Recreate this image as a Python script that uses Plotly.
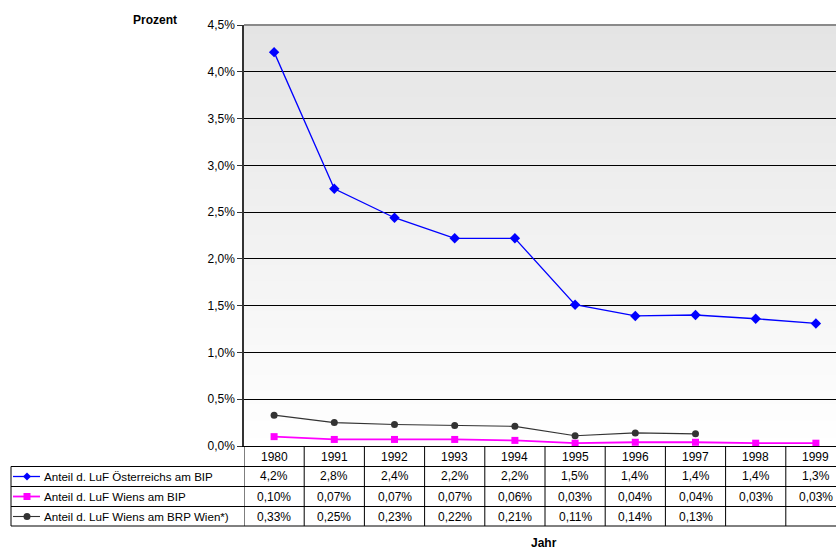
from decimal import Decimal, ROUND_HALF_UP
import plotly.graph_objects as go

# Data (percent of GDP)
years = ["1980", "1991", "1992", "1993", "1994", "1995", "1996", "1997", "1998", "1999"]
at_bip = [4.21, 2.75, 2.44, 2.22, 2.22, 1.51, 1.39, 1.40, 1.36, 1.31]
wien_bip = [0.10, 0.07, 0.07, 0.07, 0.06, 0.03, 0.04, 0.04, 0.03, 0.03]
wien_brp = [0.33, 0.25, 0.23, 0.22, 0.21, 0.11, 0.14, 0.13, None, None]

series_names = [
    "Anteil d. LuF Österreichs am BIP",
    "Anteil d. LuF Wiens am BIP",
    "Anteil d. LuF Wiens am BRP Wien*)",
]
series_colors = ["#0000ff", "#ff00ff", "#333333"]
series_symbols = ["diamond", "square", "circle"]
series_widths = [1.3, 1.8, 1.1]
series_decimals = [1, 2, 2]

# Figure geometry (pixels)
W, H = 836, 550
L, T, B = 244, 25, 104
plot_w = W - L
plot_h = H - T - B
col_w = 60.2
x_hi = -0.5 + plot_w / col_w
FONT = "Liberation Sans, Arial, sans-serif"


def xp(px):
    return (px - L) / plot_w


def yp(py):
    return (T + plot_h - py) / plot_h


def fmt(v, nd):
    if v is None:
        return ""
    q = Decimal(str(v)).quantize(Decimal(1).scaleb(-nd), rounding=ROUND_HALF_UP)
    return f"{q}".replace(".", ",") + "%"


fig = go.Figure()
all_series = [at_bip, wien_bip, wien_brp]
for vals, name, col, sym, lw in zip(all_series, series_names, series_colors,
                                    series_symbols, series_widths):
    fig.add_trace(go.Scatter(
        x=years, y=vals, name=name, mode="lines+markers",
        line=dict(color=col, width=lw),
        marker=dict(symbol=sym, size=8 if sym == "diamond" else 7, color=col,
                    line=dict(color=col, width=0)),
        connectgaps=False, cliponaxis=False, showlegend=False,
    ))

shapes = []
annotations = []

# Plot area background: grey at the top fading to white at the bottom
n_bands = 100
for i in range(n_bands):
    f = i / (n_bands - 1)
    c = round(255 - 27 * f)
    shapes.append(dict(type="rect", xref="paper", yref="paper",
                       x0=0, x1=1, y0=i / n_bands, y1=(i + 1) / n_bands + 0.002,
                       fillcolor=f"rgb({c},{c},{c})", line=dict(width=0), layer="below"))

# Top frame of the plot area
shapes.append(dict(type="line", xref="paper", yref="paper", x0=0, x1=1, y0=1, y1=1,
                   line=dict(color="#8a8a8a", width=2)))

# Data table beneath the chart
row_lines = [446, 466.5, 486.5, 506.5, 526]
row_centers = [456.5, 476.5, 496.5, 516.5]
for py in row_lines[1:]:
    shapes.append(dict(type="line", xref="x", yref="paper", x0=-0.5, x1=len(years) - 0.5,
                       y0=yp(py), y1=yp(py), line=dict(color="#000", width=1)))
    shapes.append(dict(type="line", xref="paper", yref="paper", x0=xp(11), x1=0,
                       y0=yp(py), y1=yp(py), line=dict(color="#000", width=1)))
shapes.append(dict(type="line", xref="paper", yref="paper", x0=xp(11), x1=xp(11),
                   y0=yp(row_lines[1]), y1=yp(row_lines[-1]), line=dict(color="#000", width=1)))
for k in range(len(years) + 1):
    shapes.append(dict(type="line", xref="x", yref="paper", x0=k - 0.5, x1=k - 0.5,
                       y0=yp(row_lines[0]), y1=yp(row_lines[-1]), line=dict(color="#000", width=1)))

for i, yr in enumerate(years):
    annotations.append(dict(x=i, y=yp(row_centers[0]), xref="x", yref="paper", text=yr,
                            showarrow=False, xanchor="center", yanchor="middle"))

for r, (vals, name, col, sym, nd, lw) in enumerate(zip(all_series, series_names, series_colors,
                                                      series_symbols, series_decimals,
                                                      series_widths)):
    cy = yp(row_centers[r + 1])
    for i, v in enumerate(vals):
        annotations.append(dict(x=i, y=cy, xref="x", yref="paper", text=fmt(v, nd),
                                showarrow=False, xanchor="center", yanchor="middle"))
    # legend key: line with marker
    shapes.append(dict(type="line", xref="paper", yref="paper", x0=xp(13), x1=xp(40),
                       y0=cy, y1=cy, line=dict(color=col, width=lw)))
    key = dict(xref="paper", yref="paper", xsizemode="pixel", ysizemode="pixel",
               xanchor=xp(27), yanchor=cy, fillcolor=col, line=dict(width=0))
    if sym == "diamond":
        key.update(type="path", path="M -4 0 L 0 4 L 4 0 L 0 -4 Z")
    elif sym == "square":
        key.update(type="rect", x0=-3.5, x1=3.5, y0=-3.5, y1=3.5)
    else:
        key.update(type="circle", x0=-3.5, x1=3.5, y0=-3.5, y1=3.5)
    shapes.append(key)
    annotations.append(dict(x=xp(42), y=cy, xref="paper", yref="paper", text=name,
                            font=dict(size=11.6),
                            showarrow=False, xanchor="left", yanchor="middle"))

# Axis titles
annotations.append(dict(x=xp(179), y=yp(20), xref="paper", yref="paper", text="<b>Prozent</b>",
                        showarrow=False, xanchor="right", yanchor="middle"))
annotations.append(dict(x=xp(544), y=yp(543), xref="paper", yref="paper", text="<b>Jahr</b>",
                        showarrow=False, xanchor="center", yanchor="middle"))

fig.update_layout(
    width=W, height=H,
    margin=dict(l=L, r=0, t=T, b=B, pad=0),
    paper_bgcolor="white", plot_bgcolor="white",
    separators=",.",
    font=dict(family=FONT, size=12, color="#000"),
    shapes=shapes, annotations=annotations,
    xaxis=dict(type="category", range=[-0.5, x_hi], showticklabels=False, ticks="",
               showgrid=False, zeroline=False, showline=True, linecolor="#000", linewidth=1,
               fixedrange=True),
    yaxis=dict(range=[0, 4.5], dtick=0.5, tick0=0, tickformat=".1f", ticksuffix="%",
               showgrid=True, gridcolor="#000", gridwidth=1, zeroline=False,
               showline=True, linecolor="#333", linewidth=1.5, ticks="outside", ticklen=5,
               tickcolor="#333", tickfont=dict(size=12), fixedrange=True),
    showlegend=False,
)

fig.write_html("out.html")
